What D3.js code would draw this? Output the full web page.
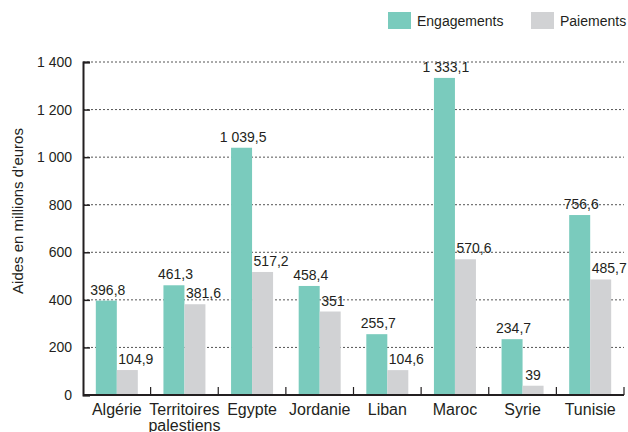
<!DOCTYPE html>
<html>
<head>
<meta charset="utf-8">
<script src="https://cdn.jsdelivr.net/npm/d3@7"></script>
<style>
  body { margin: 0; background: #fff; }
  text { font-family: "Liberation Sans", Arial, sans-serif; fill: #231f20; }
</style>
</head>
<body>
<div id="chart"></div>
<script>
// data
var categories = ["Algérie", "Territoires palestiens", "Egypte", "Jordanie", "Liban", "Maroc", "Syrie", "Tunisie"];
var engagements = [396.8, 461.3, 1039.5, 458.4, 255.7, 1333.1, 234.7, 756.6];
var paiements = [104.9, 381.6, 517.2, 351, 104.6, 570.6, 39, 485.7];
var engLabels = ["396,8", "461,3", "1 039,5", "458,4", "255,7", "1 333,1", "234,7", "756,6"];
var paiLabels = ["104,9", "381,6", "517,2", "351", "104,6", "570,6", "39", "485,7"];
var yTicks = [0, 200, 400, 600, 800, 1000, 1200, 1400];
var seriesNames = ["Engagements", "Paiements"];
var colors = ["#7acbbd", "#d1d2d4"];

var width = 628, height = 432;
var margin = {left: 83, right: 4, top: 62, bottom: 37};

var svg = d3.select("#chart").append("svg")
            .attr("width", width)
            .attr("height", height);

var x = d3.scaleBand()
          .domain(categories)
          .range([margin.left, width - margin.right])
          .paddingInner(0)
          .paddingOuter(0);

var y = d3.scaleLinear()
          .domain([0, 1400])
          .range([height - margin.bottom, margin.top]);

var barW = 21;

// dotted grid
svg.append("g")
   .selectAll("line")
   .data(yTicks.filter(d => d > 0))
   .enter()
   .append("line")
   .attr("x1", margin.left)
   .attr("x2", width - margin.right)
   .attr("y1", d => y(d))
   .attr("y2", d => y(d))
   .attr("stroke", "#555")
   .attr("stroke-width", 1)
   .attr("stroke-dasharray", "2,2");

// y axis
var yAxis = svg.append("g")
   .attr("transform", "translate(" + margin.left + ",0)")
   .call(d3.axisLeft(y).tickValues(yTicks).tickSize(-7)
           .tickFormat(d => d3.format(",")(d).replace(",", "\u00a0")));
yAxis.select(".domain").attr("stroke", "#231f20").attr("stroke-width", 2);
yAxis.selectAll(".tick line").attr("stroke", "#231f20").attr("stroke-width", 1.5);
yAxis.selectAll(".tick text")
     .attr("x", -11)
     .style("font-size", "14px")
     .style("font-family", "'Liberation Sans', Arial, sans-serif")
     .attr("fill", "#231f20");

// bars
var groups = svg.append("g")
   .selectAll("g")
   .data(categories)
   .enter()
   .append("g");

groups.append("rect")
   .attr("x", d => x(d) + x.bandwidth() / 2 - barW)
   .attr("y", (d, i) => y(engagements[i]))
   .attr("width", barW)
   .attr("height", (d, i) => y(0) - y(engagements[i]))
   .attr("fill", colors[0]);

groups.append("rect")
   .attr("x", d => x(d) + x.bandwidth() / 2)
   .attr("y", (d, i) => y(paiements[i]))
   .attr("width", barW)
   .attr("height", (d, i) => y(0) - y(paiements[i]))
   .attr("fill", colors[1]);

// value labels
groups.append("text")
   .attr("x", d => x(d) + x.bandwidth() / 2 - barW / 2 + 1.5)
   .attr("y", (d, i) => y(engagements[i]) - 6)
   .attr("text-anchor", "middle")
   .style("font-size", "14px")
   .text((d, i) => engLabels[i]);

groups.append("text")
   .attr("x", (d, i) => paiLabels[i].length < 3 ? x(d) + x.bandwidth() / 2 + barW / 2 : x(d) + x.bandwidth() / 2 + 1.5)
   .attr("y", (d, i) => y(paiements[i]) - 6)
   .attr("text-anchor", (d, i) => paiLabels[i].length < 3 ? "middle" : "start")
   .style("font-size", "14px")
   .text((d, i) => paiLabels[i]);

// x axis
var xAxis = svg.append("g")
   .attr("transform", "translate(0," + y(0) + ")");
xAxis.append("line")
   .attr("x1", margin.left)
   .attr("x2", width - margin.right)
   .attr("stroke", "#231f20")
   .attr("stroke-width", 2);
xAxis.selectAll(".sep")
   .data(categories.slice(1).concat(["end"]))
   .enter()
   .append("line")
   .attr("x1", d => d === "end" ? width - margin.right : x(d))
   .attr("x2", d => d === "end" ? width - margin.right : x(d))
   .attr("y1", 0)
   .attr("y2", -8)
   .attr("stroke", "#231f20")
   .attr("stroke-width", 1.2);

var catText = xAxis.selectAll(".cat")
   .data(categories)
   .enter()
   .append("text")
   .attr("x", d => x(d) + x.bandwidth() / 2)
   .attr("y", 20)
   .attr("text-anchor", "middle")
   .style("font-size", "16px");
catText.each(function(d) {
    var words = d.split(" ");
    var t = d3.select(this);
    words.forEach(function(w, k) {
        t.append("tspan")
         .attr("x", x(d) + x.bandwidth() / 2)
         .attr("dy", k === 0 ? 0 : 16)
         .text(w);
    });
});

// y title
svg.append("text")
   .attr("transform", "translate(23,211) rotate(-90)")
   .attr("text-anchor", "middle")
   .style("font-size", "15px")
   .text("Aides en millions d\u2019euros");

// legend
var legendX = [388, 531];
var legend = svg.append("g")
   .selectAll("g")
   .data(seriesNames)
   .enter()
   .append("g")
   .attr("transform", (d, i) => "translate(" + legendX[i] + ",12)");
legend.append("rect")
   .attr("width", 23)
   .attr("height", 17)
   .attr("fill", (d, i) => colors[i]);
legend.append("text")
   .attr("x", 29)
   .attr("y", 13.5)
   .style("font-size", "14px")
   .text(d => d);
</script>
</body>
</html>
